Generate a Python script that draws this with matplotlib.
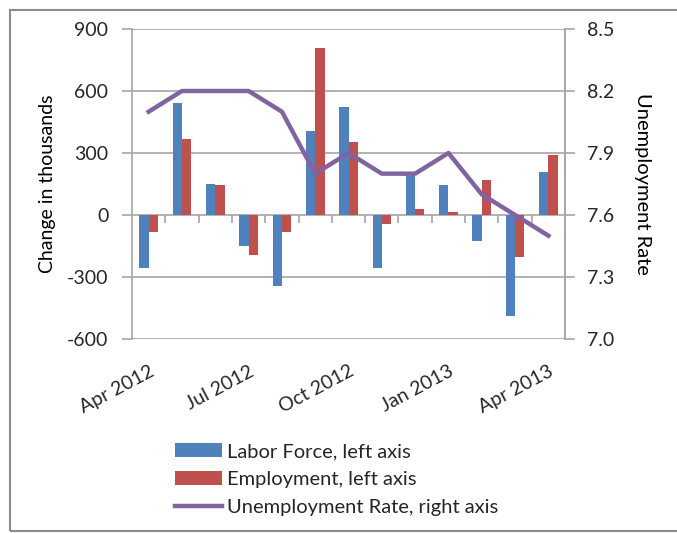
import numpy as np
import matplotlib.pyplot as plt
from matplotlib.patches import Rectangle

plt.rcParams['font.family'] = ['Lato', 'DejaVu Sans']
plt.rcParams['axes.unicode_minus'] = False
plt.rcParams['text.color'] = '#262626'

months = ["Apr 2012", "May 2012", "Jun 2012", "Jul 2012", "Aug 2012", "Sep 2012",
          "Oct 2012", "Nov 2012", "Dec 2012", "Jan 2013", "Feb 2013", "Mar 2013",
          "Apr 2013"]
labor_force = [-255, 544, 150, -152, -344, 406, 523, -255, 197, 145, -127, -490, 210]
employment = [-82, 369, 145, -195, -82, 807, 352, -45, 29, 16, 171, -205, 292]
unemp_rate = [8.1, 8.2, 8.2, 8.2, 8.1, 7.8, 7.9, 7.8, 7.8, 7.9, 7.7, 7.6, 7.5]

blue = "#4F81BD"
red = "#C0504D"
purple = "#8064A2"
gray = "#A6A6A6"
txt = "#262626"

fig = plt.figure(figsize=(6.77, 5.33), dpi=100)
ax = fig.add_axes([0.195, 0.364, 0.6396, 0.5816])

x = np.arange(len(months))
w = 0.28
ax.bar(x - w / 2, labor_force, w, color=blue, label="Labor Force, left axis", zorder=3)
ax.bar(x + w / 2, employment, w, color=red, label="Employment, left axis", zorder=3)

ax.set_xlim(-0.5, len(months) - 0.5)
ax.set_ylim(-600, 900)
ax.set_yticks(range(-600, 901, 300))
ax.grid(axis="y", color=gray, linewidth=1.2, zorder=0)
ax.set_xticks(x[::3])
ax.set_xticklabels(months[::3], rotation=28, ha="right", rotation_mode="anchor")
ax.tick_params(axis="x", length=0, pad=17, labelsize=14, labelcolor=txt)
ax.tick_params(axis="y", length=7, width=1.2, color=gray, labelsize=14, pad=10,
               labelcolor=txt)
for s in ["top", "bottom"]:
    ax.spines[s].set_visible(False)
for s in ["left", "right"]:
    ax.spines[s].set_color(gray)
    ax.spines[s].set_linewidth(1.2)
ax.set_ylabel("Change in thousands", fontsize=14, labelpad=8)

# category tick marks on the zero line
sec = ax.secondary_xaxis(0.4)
sec.set_xticks(np.arange(0.5, len(months) - 0.5, 1))
sec.set_xticklabels([])
sec.tick_params(length=6, color=gray, width=1.2)
sec.spines["bottom"].set_visible(False)

ax2 = ax.twinx()
ax2.plot(x, unemp_rate, color=purple, linewidth=3.2, solid_joinstyle="round",
         label="Unemployment Rate, right axis", zorder=4)
ax2.set_ylim(7.0, 8.5)
ax2.set_yticks([7.0, 7.3, 7.6, 7.9, 8.2, 8.5])
ax2.set_yticklabels(["7.0", "7.3", "7.6", "7.9", "8.2", "8.5"])
ax2.tick_params(axis="y", length=7, width=1.2, color=gray, labelsize=14, pad=9,
                labelcolor=txt)
for s in ["top", "bottom", "left"]:
    ax2.spines[s].set_visible(False)
ax2.spines["right"].set_color(gray)
ax2.spines["right"].set_linewidth(1.2)
ax2.set_ylabel("Unemployment Rate", fontsize=14.5, rotation=270, labelpad=26)

h1, l1 = ax.get_legend_handles_labels()
h2, l2 = ax2.get_legend_handles_labels()
fig.legend(h1 + h2, l1 + l2, loc="upper left", bbox_to_anchor=(0.247, 0.184),
           frameon=False, fontsize=14.5, handlelength=2.3, handleheight=0.65,
           labelspacing=0.55, handletextpad=0.25, borderaxespad=0)

border = Rectangle((10 / 677, 2 / 533), 1.0, 521 / 533, transform=fig.transFigure,
                   facecolor="none", edgecolor="#8C8C8C", linewidth=1.5)
fig.patches.append(border)

fig.savefig("out.png", dpi=100)
